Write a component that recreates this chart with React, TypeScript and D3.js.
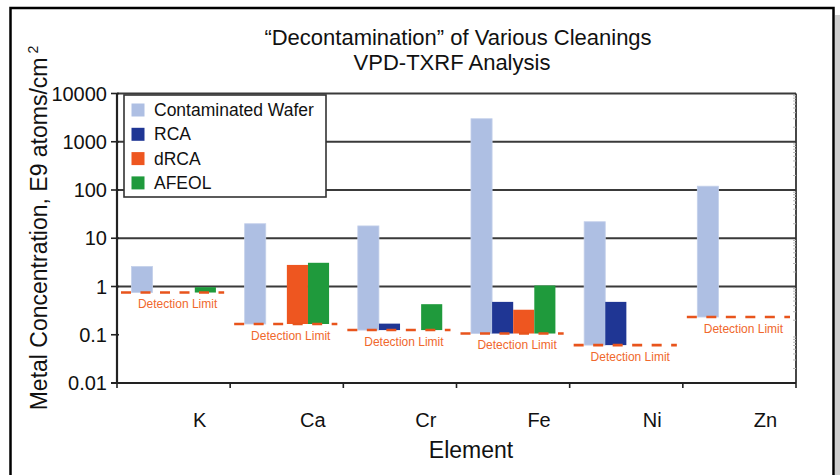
import React from "react";
import * as d3 from "d3";

const elements = ["K", "Ca", "Cr", "Fe", "Ni", "Zn"];
const seriesNames = ["Contaminated Wafer", "RCA", "dRCA", "AFEOL"];
const detectionLimit = [0.75, 0.167, 0.125, 0.106, 0.061, 0.233];
const contaminated = [2.6, 20, 18, 3000, 22, 120];
const rca = [null, null, 0.17, 0.48, 0.48, null];
const drca = [null, 2.8, null, 0.33, null, null];
const afeol = [0.97, 3.1, 0.43, 1.05, null, null];
const yTicks = [0.01, 0.1, 1, 10, 100, 1000, 10000];
const gridValues = [1, 10, 100, 1000, 10000];

const colors = ["#AEBFE3", "#1F3694", "#EE5620", "#1F9A3C"];
const dlColor = "#E8541C";
const dlText = "#F0682C";
const FONT = "'Liberation Sans', Arial, Helvetica, sans-serif";

export default function App() {
  const W = 840, H = 475;
  const x0 = 117, x1 = 796, yTop = 93.5, yBot = 383;
  const y = d3.scaleLog().domain([0.01, 10000]).range([yBot, yTop]);
  const xg = d3.scaleBand().domain(elements).range([x0, x1]).padding(0);
  const bw = xg.bandwidth();
  const xs = d3.scaleBand().domain(seriesNames).range([bw * 0.128, bw * 0.874]).padding(0);
  const allSeries = [contaminated, rca, drca, afeol];
  const minor: number[] = [];
  for (let e = -2; e < 4; e++) for (let m = 2; m <= 9; m++) minor.push(m * Math.pow(10, e));

  return (
    <svg width={W} height={H} style={{ display: "block", position: "absolute", left: 0, top: 0 }} fontFamily={FONT}>
      <rect x={0} y={0} width={W} height={H} fill="#fff" />
      {/* shadow + frame */}
      <rect x={835} y={15} width={5} height={H} fill="#cfcfcf" />
      <rect x={10.5} y={8} width={823} height={H + 20} fill="#fff" stroke="#000" strokeWidth={2.5} />

      {/* title */}
      <text x={458} y={45} fontSize={22} textAnchor="middle" fill="#111">“Decontamination” of Various Cleanings</text>
      <text x={452} y={70} fontSize={22} textAnchor="middle" fill="#111">VPD-TXRF Analysis</text>

      {/* gridlines */}
      {gridValues.map((g) => (
        <line key={g} x1={x0} x2={x1} y1={y(g)} y2={y(g)} stroke="#3a3a3a" strokeWidth={2} />
      ))}
      {/* right axis with faint minor ticks */}
      <line x1={x1} x2={x1} y1={yTop} y2={yBot} stroke="#333" strokeWidth={1.8} />
      {minor.map((m, i) => (
        <line key={i} x1={x1 - 3} x2={x1} y1={y(m)} y2={y(m)} stroke="#b5b5b5" strokeWidth={1} />
      ))}

      {/* detection limit lines & bars */}
      {elements.map((el, i) => {
        const gx = xg(el)!;
        const dl = detectionLimit[i];
        return (
          <g key={el}>
            {allSeries.map((s, j) => {
              const v = s[i];
              if (v == null || v <= dl) return null;
              const bx = gx + xs(seriesNames[j])!;
              return (
                <rect key={j} x={bx} y={y(v)} width={xs.bandwidth()} height={y(dl) - y(v)}
                  fill={colors[j]} stroke={j === 0 ? "#c4d0ea" : "none"} strokeWidth={0.8} />
              );
            })}
            <line x1={gx + 4} x2={gx + bw - 6} y1={y(dl)} y2={y(dl)} stroke={dlColor} strokeWidth={2.6} strokeDasharray="10,9.5" />
            <text x={gx + bw / 2 + 4} y={y(dl) + 15.5} fontSize={12} textAnchor="middle" fill={dlText}>Detection Limit</text>
          </g>
        );
      })}

      {/* legend */}
      <rect x={124} y={95} width={202} height={102} fill="#fff" stroke="#333" strokeWidth={1.6} />
      {seriesNames.map((n, j) => (
        <g key={n} transform={`translate(0,${110 + j * 24.3})`}>
          <rect x={131.5} y={-6.5} width={13} height={13} fill={colors[j]} />
          <text x={154} y={6} fontSize={17.5} fill="#111">{n}</text>
        </g>
      ))}

      {/* left axis */}
      <line x1={x0} x2={x0} y1={yTop} y2={yBot} stroke="#222" strokeWidth={2.2} />
      {yTicks.map((t) => (
        <g key={t}>
          <line x1={x0 - 6} x2={x0 + 2} y1={y(t)} y2={y(t)} stroke="#222" strokeWidth={1.6} />
          <text x={107} y={y(t)} dy="0.36em" fontSize={20} textAnchor="end" fill="#111">{d3.format("")(t)}</text>
        </g>
      ))}
      {/* bottom axis */}
      <line x1={x0 - 6} x2={x1} y1={yBot} y2={yBot} stroke="#222" strokeWidth={2.2} />
      {[...elements.map((e) => xg(e)!), x1].map((tx, i) => (
        <line key={i} x1={tx} x2={tx} y1={yBot} y2={yBot + 5} stroke="#222" strokeWidth={1.6} />
      ))}
      {elements.map((el) => (
        <text key={el} x={xg(el)! + bw / 2 + 26} y={426.5} fontSize={20} textAnchor="middle" fill="#111">{el}</text>
      ))}
      <text x={471} y={458} fontSize={23} textAnchor="middle" fill="#111">Element</text>
      <text transform="translate(47,228) rotate(-90)" fontSize={23} textAnchor="middle" fill="#111">
        Metal Concentration, E9 atoms/cm
        <tspan dx={4} dy={-9} fontSize={14}>2</tspan>
      </text>
    </svg>
  );
}
